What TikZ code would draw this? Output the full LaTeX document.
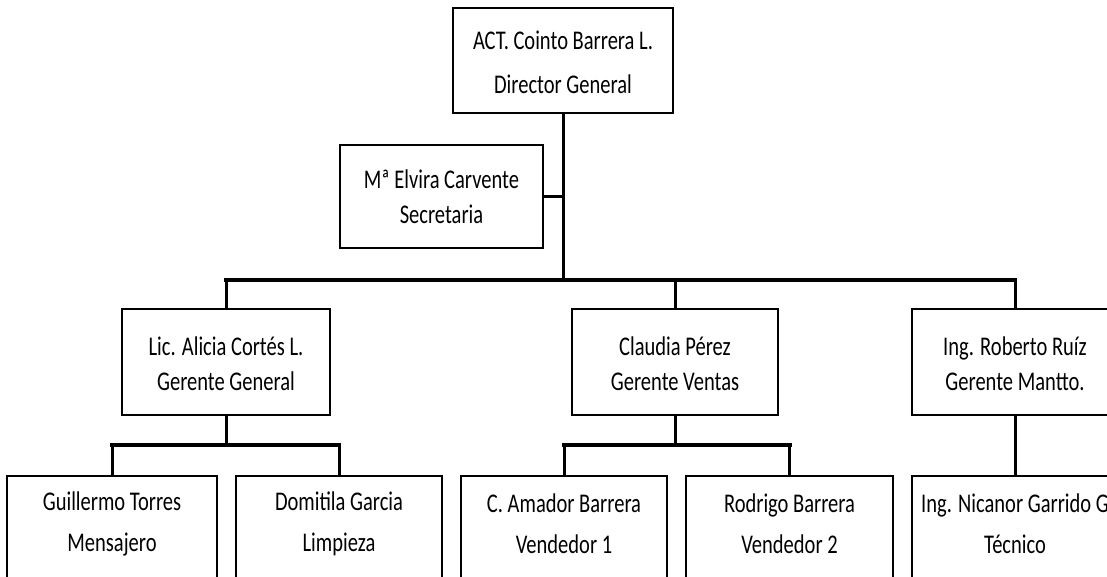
\documentclass[tikz,border=0pt]{standalone}
\usepackage{fontspec}
\setmainfont{Carlito}[FakeStretch=0.76]
\begin{document}
\begin{tikzpicture}[x=1pt,y=-1pt,
  box/.style={draw=black, line width=1.8pt, fill=white, rectangle, inner sep=0pt},
  txt/.style={align=center, inner sep=0pt, font=\fontsize{27}{#1}\selectfont},
  txt/.default=35,
  conn/.style={line width=3pt, line cap=rect},
  bus/.style={line width=4pt, line cap=rect}]
\useasboundingbox (0,0) rectangle (1107,577);
\fill[white] (0,0) rectangle (1107,577);
\clip (0,0) rectangle (1107,577);

% coordinates of the two horizontal buses
\coordinate (bus1) at (0,280);
\coordinate (bus2) at (0,445);

% level 1
\node[box, minimum width=220pt, minimum height=105pt] (top) at (563,60.5) {};
\node[txt=44] (topt) at (563,62) {ACT. Cointo Barrera L.\\Director General};

% secretary
\node[box, minimum width=203pt, minimum height=103pt] (sec) at (441.5,196.5) {};
\node[txt] (sect) at (441.5,197) {Mª Elvira Carvente\\Secretaria};

% level 2
\node[box, minimum width=208pt, minimum height=106pt] (lic) at (226,362) {};
\node[txt] (lict) at (226,364) {Lic. Alicia Cortés L.\\Gerente General};
\node[box, minimum width=206pt, minimum height=106pt] (cla) at (675,362) {};
\node[txt] (clat) at (675,364) {Claudia Pérez\\Gerente Ventas};
\node[box, minimum width=206pt, minimum height=106pt] (rob) at (1015,362) {};
\node[txt] (robt) at (1015,364) {Ing. Roberto Ruíz\\Gerente Mantto.};

% level 3
\node[box, minimum width=210pt, minimum height=140pt, anchor=north] (guil) at (112,475) {};
\node[txt=41] (guilt) at ([yshift=-49pt]guil.north) {Guillermo Torres\\Mensajero};
\node[box, minimum width=206pt, minimum height=140pt, anchor=north] (dom) at (339,475) {};
\node[txt=41] (domt) at ([yshift=-49pt]dom.north) {Domitila Garcia\\Limpieza};
\node[box, minimum width=206pt, minimum height=140pt, anchor=north] (ama) at (564,475) {};
\node[txt=41] (amat) at ([yshift=-49pt]ama.north) {C. Amador Barrera\\Vendedor 1};
\node[box, minimum width=207pt, minimum height=140pt, anchor=north] (rod) at (789.5,475) {};
\node[txt=41] (rodt) at ([yshift=-49pt]rod.north) {Rodrigo Barrera\\Vendedor 2};
\node[box, minimum width=206pt, minimum height=140pt, anchor=north] (nic) at (1015,475) {};
\node[txt=41] (nict) at ([yshift=-49pt]nic.north) {Ing. Nicanor Garrido G\\Técnico};

% connectors
\draw[conn] (top.south) -- (top.south |- bus1);
\draw[conn] (sec.east) -- (sec.east -| top.south);
\draw[bus] (lic.north |- bus1) -- (rob.north |- bus1);
\draw[conn] (lic.north |- bus1) -- (lic.north);
\draw[conn] (cla.north |- bus1) -- (cla.north);
\draw[conn] (rob.north |- bus1) -- (rob.north);

\draw[conn] (lic.south) -- (lic.south |- bus2);
\draw[bus] (guil.north |- bus2) -- (dom.north |- bus2);
\draw[conn] (guil.north |- bus2) -- (guil.north);
\draw[conn] (dom.north |- bus2) -- (dom.north);

\draw[conn] (cla.south) -- (cla.south |- bus2);
\draw[bus] (ama.north |- bus2) -- (rod.north |- bus2);
\draw[conn] (ama.north |- bus2) -- (ama.north);
\draw[conn] (rod.north |- bus2) -- (rod.north);

\draw[conn] (rob.south) -- (nic.north);
\end{tikzpicture}
\end{document}
